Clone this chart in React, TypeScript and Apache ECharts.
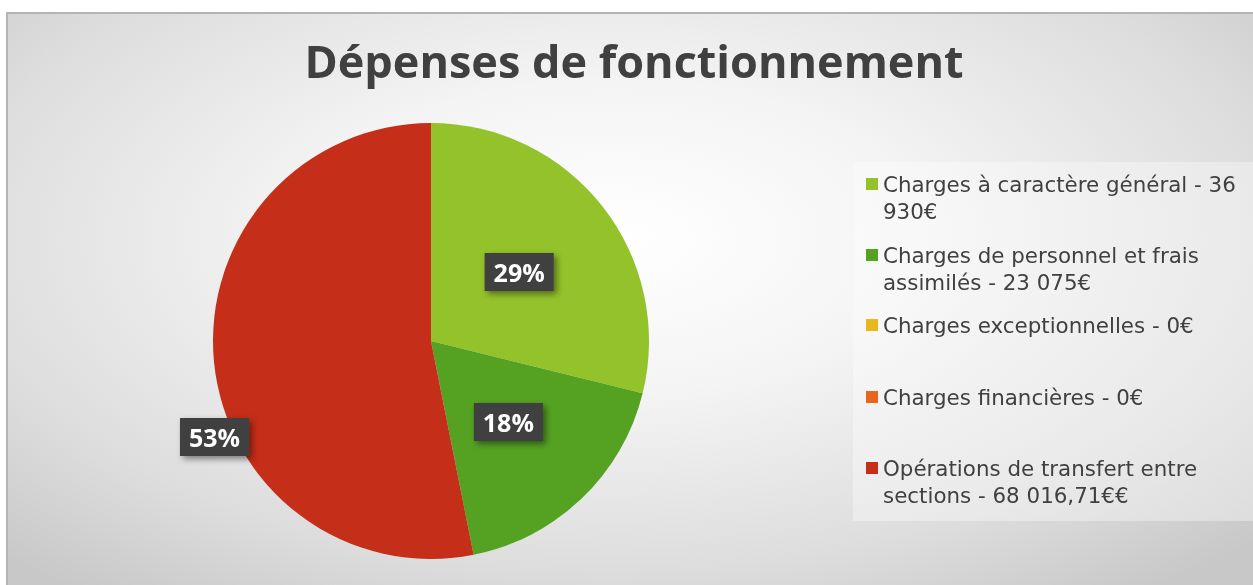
import React, { useEffect, useRef } from "react";
import * as echarts from "echarts";

const categories = [
  "Charges à caractère général - 36 930€",
  "Charges de personnel et frais assimilés - 23 075€",
  "Charges exceptionnelles - 0€",
  "Charges financières - 0€",
  "Opérations de transfert entre sections - 68 016,71€€",
];
const legendLabels = [
  "Charges à caractère général - 36\n930€",
  "Charges de personnel et frais\nassimilés - 23 075€",
  "Charges exceptionnelles - 0€",
  "Charges financières - 0€",
  "Opérations de transfert entre\nsections - 68 016,71€€",
];
const values = [36930, 23075, 0, 0, 68016.71];
const colors = ["#93c22a", "#55a223", "#e6b91e", "#e8651c", "#c52e18"];
const title = "Dépenses de fonctionnement";

const legendIconCenters = [170, 241, 311, 383, 454];
const LH = 27;

export default function App() {
  const ref = useRef<HTMLDivElement>(null);
  useEffect(() => {
    if (!ref.current) return;
    const chart = echarts.init(ref.current, null, { renderer: "svg" });
    const font = "'Open Sans', 'DejaVu Sans', sans-serif";
    const legendFont = "'DejaVu Sans', sans-serif";
    const legends = categories.map((name, i) => {
      const twoLines = legendLabels[i].includes("\n");
      const h = twoLines ? LH * 3 : LH;
      return {
        data: [name],
        left: 858,
        top: legendIconCenters[i] - h / 2,
        padding: 0,
        icon: "rect",
        itemWidth: 12,
        itemHeight: 12,
        itemGap: 0,
        orient: "vertical",
        selectedMode: false,
        formatter: () => (twoLines ? "\n" + legendLabels[i] : legendLabels[i]),
        textStyle: {
          color: "#404040",
          fontSize: 21.4,
          fontFamily: legendFont,
          lineHeight: LH,
          padding: [0, 0, 0, 0],
        },
      };
    });
    chart.setOption({
      animation: false,
      backgroundColor: "transparent",
      title: {
        text: title,
        left: 621,
        textAlign: "center",
        top: 19,
        textStyle: {
          color: "#404040",
          fontSize: 45,
          fontWeight: "bold",
          fontFamily: font,
        },
      },
      graphic: [
        {
          type: "rect",
          left: 845,
          top: 148,
          shape: { width: 400, height: 359 },
          style: { fill: "rgba(255,255,255,0.35)" },
          z: -1,
        },
      ],
      legend: legends,
      series: [
        {
          type: "pie",
          center: [423, 327],
          radius: 218,
          startAngle: 90,
          clockwise: true,
          percentPrecision: 0,
          color: colors,
          itemStyle: { borderWidth: 0 },
          label: {
            show: true,
            position: "inside",
            formatter: "{d}%",
            color: "#ffffff",
            fontWeight: "bold",
            fontSize: 25,
            fontFamily: font,
            backgroundColor: "#404040",
            padding: [8, 9, 5, 9],
            shadowBlur: 6,
            shadowOffsetX: 3,
            shadowOffsetY: 3,
            shadowColor: "rgba(0,0,0,0.45)",
          },
          labelLine: { show: false },
          labelLayout: (p: any) => (p.dataIndex === 4 ? { dx: -105, dy: 85 } : {}),
          emphasis: { disabled: true },
          data: categories.map((name, i) => ({
            name,
            value: values[i],
            label: values[i] === 0 ? { show: false } : undefined,
          })),
        },
      ],
    });
    return () => chart.dispose();
  }, []);
  return (
    <div
      style={{
        position: "fixed",
        left: 6,
        top: 12,
        width: 1260,
        height: 590,
        borderTop: "2px solid #b4b4b4",
        borderLeft: "2px solid #b4b4b4",
        background:
          "radial-gradient(ellipse 70% 75% at 48% 38%, #ffffff 0%, #f4f4f4 35%, #dddddd 75%, #c8c8c8 100%)",
      }}
    >
      <div ref={ref} style={{ width: 1245, height: 571 }} />
    </div>
  );
}
